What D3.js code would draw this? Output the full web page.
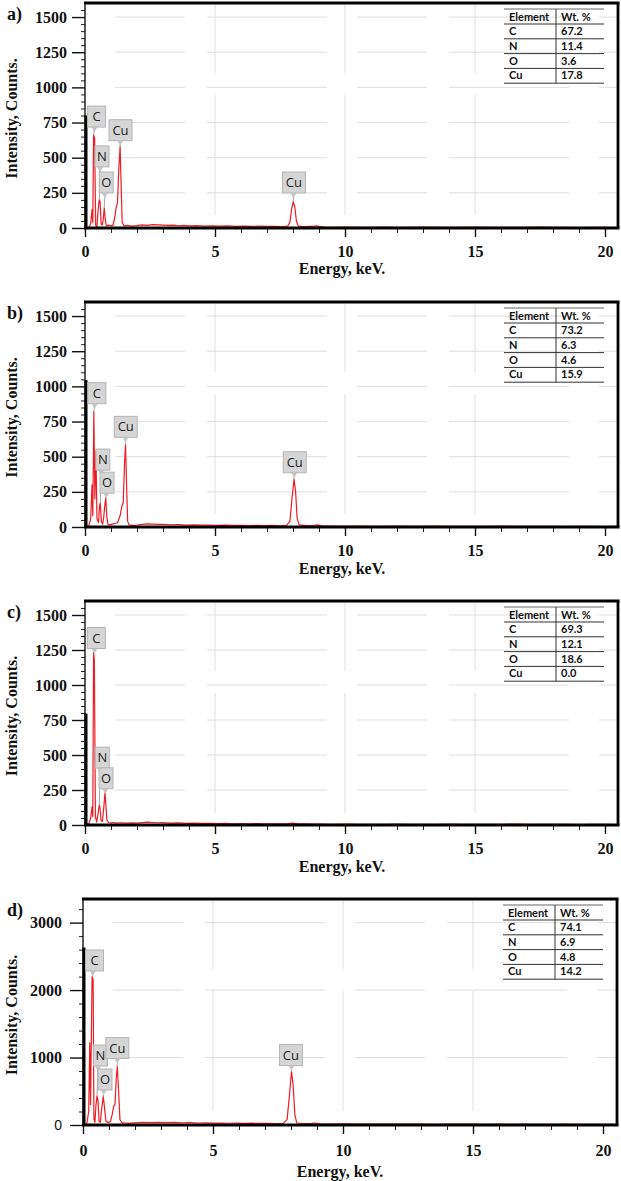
<!DOCTYPE html>
<html>
<head>
<meta charset="utf-8">
<script src="https://cdn.jsdelivr.net/npm/d3@7"></script>
<style>
  body { margin: 0; background: #fff; }
  svg { display: block; }
</style>
</head>
<body>
<div id="chart"></div>
<script>
// ---- data ----
const elements = ["C", "N", "O", "Cu"];
const wtA = [67.2, 11.4, 3.6, 17.8];
const wtB = [73.2, 6.3, 4.6, 15.9];
const wtC = [69.3, 12.1, 18.6, 0.0];
const wtD = [74.1, 6.9, 4.8, 14.2];

const xTicks = [0, 5, 10, 15, 20];
const yTicksLow = [0, 250, 500, 750, 1000, 1250, 1500];
const yTicksHigh = [0, 1000, 2000, 3000];

// detector zero peak (black line at 0 keV)
const zeroPeaks = [800, 1045, 796, 2630];

// [keV, counts]
const spectrumA = [[0.05,0],[0.15,5],[0.22,30],[0.27,130],[0.3,40],[0.33,661],[0.37,640],[0.41,20],[0.46,10],
  [0.5,120],[0.55,200],[0.58,190],[0.62,30],[0.66,20],[0.7,60],[0.74,142],[0.78,60],[0.82,15],[0.9,20],[1.0,15],
  [1.08,20],[1.15,80],[1.2,150],[1.25,178],[1.3,420],[1.35,578],[1.39,300],[1.43,40],[1.5,15],[1.6,18],[1.8,14],
  [2.0,17],[2.2,22],[2.4,19],[2.6,24],[2.8,22],[3.0,20],[3.2,18],[3.4,21],[3.6,16],[3.8,18],[4.0,15],[4.3,17],
  [4.6,14],[4.9,15],[5.2,13],[5.5,15],[5.8,12],[6.1,14],[6.4,12],[6.7,13],[7.0,11],[7.3,12],[7.6,10],[7.8,14],
  [7.88,40],[7.95,140],[8.01,187],[8.07,150],[8.13,50],[8.2,14],[8.4,10],[8.6,11],[8.8,12],[8.9,16],[9.0,11],
  [9.2,6],[9.6,5],[10,6],[10.5,4],[11,5],[11.5,6],[12,5],[12.5,4],[13,6],[13.5,5],[14,5],[14.5,4],[15,6],[15.5,5],
  [16,4],[16.5,5],[17,4],[17.5,6],[18,4],[18.5,5],[19,3],[19.5,5],[20,4],[20.45,3]];

const spectrumB = [[0.05,0],[0.15,10],[0.22,60],[0.27,300],[0.3,80],[0.34,820],[0.38,200],[0.42,540],[0.46,60],
  [0.52,30],[0.56,150],[0.59,170],[0.63,40],[0.68,20],[0.72,70],[0.77,170],[0.8,205],[0.84,70],[0.88,20],[0.95,15],
  [1.05,20],[1.15,25],[1.25,30],[1.35,80],[1.42,150],[1.47,172],[1.52,450],[1.56,585],[1.6,300],[1.64,40],[1.7,15],
  [1.8,12],[2.0,14],[2.2,18],[2.4,22],[2.6,20],[2.8,18],[3.0,19],[3.3,16],[3.6,17],[3.9,14],[4.2,15],[4.5,13],
  [4.8,14],[5.1,12],[5.4,13],[5.7,11],[6.0,12],[6.3,10],[6.6,11],[6.9,10],[7.2,11],[7.5,9],[7.75,12],[7.88,40],
  [7.96,200],[8.04,341],[8.1,250],[8.16,60],[8.24,15],[8.5,10],[8.8,12],[8.95,15],[9.1,8],[9.5,6],[10,5],[10.5,6],
  [11,4],[11.5,5],[12,6],[12.5,4],[13,5],[13.5,6],[14,4],[14.5,5],[15,5],[15.5,4],[16,6],[16.5,4],[17,5],[17.5,4],
  [18,5],[18.5,3],[19,4],[19.5,5],[20,3],[20.45,4]];

const spectrumC = [[0.05,0],[0.15,10],[0.22,50],[0.27,130],[0.3,60],[0.33,1232],[0.36,1180],[0.4,60],[0.45,20],
  [0.5,80],[0.55,142],[0.58,120],[0.62,30],[0.67,25],[0.72,120],[0.77,230],[0.8,150],[0.84,40],[0.9,18],[1.0,15],
  [1.1,18],[1.2,14],[1.4,16],[1.6,13],[1.8,15],[2.0,14],[2.2,17],[2.4,20],[2.6,18],[2.8,16],[3.0,17],[3.3,14],
  [3.6,15],[3.9,12],[4.2,13],[4.5,11],[4.8,12],[5.1,10],[5.4,11],[5.7,9],[6.0,10],[6.3,8],[6.6,10],[6.9,8],[7.2,9],
  [7.5,8],[7.8,10],[8.0,14],[8.2,9],[8.5,8],[8.8,7],[9.1,6],[9.5,5],[10,6],[10.5,4],[11,5],[11.5,4],[12,6],[12.5,5],
  [13,4],[13.5,5],[14,6],[14.5,4],[15,5],[15.5,4],[16,5],[16.5,6],[17,4],[17.5,5],[18,4],[18.5,5],[19,3],[19.5,4],
  [20,5],[20.45,3]];

const spectrumD = [[0.05,0],[0.15,30],[0.22,200],[0.26,1220],[0.29,300],[0.35,2200],[0.39,2150],[0.42,80],[0.46,40],
  [0.5,300],[0.54,430],[0.58,350],[0.62,50],[0.67,40],[0.72,250],[0.78,420],[0.83,250],[0.88,60],[0.95,40],[1.05,45],
  [1.12,150],[1.18,280],[1.23,300],[1.28,700],[1.32,867],[1.37,500],[1.42,80],[1.5,35],[1.6,30],[1.8,28],[2.0,32],
  [2.3,38],[2.6,35],[2.9,40],[3.2,36],[3.5,38],[3.8,33],[4.1,35],[4.4,30],[4.7,32],[5.0,28],[5.3,30],[5.6,26],
  [5.9,28],[6.2,25],[6.5,27],[6.8,23],[7.1,25],[7.4,22],[7.7,24],[7.85,80],[7.93,400],[8.02,792],[8.08,600],
  [8.15,150],[8.22,30],[8.5,22],[8.8,24],[8.95,30],[9.1,18],[9.5,15],[10,16],[10.5,13],[11,15],[11.5,14],[12,12],
  [12.5,14],[13,13],[13.5,11],[14,13],[14.5,12],[15,14],[15.5,11],[16,12],[16.5,10],[17,12],[17.5,11],[18,10],
  [18.5,12],[19,9],[19.5,11],[20,10],[20.45,9]];

// peak labels: [element, keV, counts]
const peaksA = [["C",0.33,661],["N",0.55,200],["O",0.74,142],["Cu",1.35,578],["Cu",8.01,187]];
const peaksB = [["C",0.34,820],["N",0.59,170],["O",0.8,205],["Cu",1.56,585],["Cu",8.04,341]];
const peaksC = [["C",0.33,1232],["N",0.55,142],["O",0.77,230]];
const peaksD = [["C",0.35,2200],["N",0.54,430],["O",0.78,420],["Cu",1.32,867],["Cu",8.02,792]];

// ---- layout ----
const W = 621, H = 1181;
const serif = "'Liberation Serif','Times New Roman',serif";
const sans = "'Open Sans','DejaVu Sans',sans-serif";

const panels = [
  { tag: "a)", left: 85, top: 3, right: 618, bottom: 228, yMax: 1600, yTicks: yTicksLow, yMinor: 50,
    data: spectrumA, peaks: peaksA, wt: wtA, zero: zeroPeaks[0], tickGap: 9, titleGap: 46,
    boxes: [[3,8],[2.7,33],[2,15],[0.4,6],[0.7,8.7]] },
  { tag: "b)", left: 85, top: 302, right: 618, bottom: 527, yMax: 1600, yTicks: yTicksLow, yMinor: 50,
    data: spectrumB, peaks: peaksB, wt: wtB, zero: zeroPeaks[1], tickGap: 9, titleGap: 47,
    boxes: [[3,8],[2.5,33],[1.2,5],[0.2,7.4],[0.7,6.3]] },
  { tag: "c)", left: 85, top: 601, right: 618, bottom: 825, yMax: 1600, yTicks: yTicksLow, yMinor: 50,
    data: spectrumC, peaks: peaksC, wt: wtC, zero: zeroPeaks[2], tickGap: 9, titleGap: 47,
    boxes: [[2.7,4],[3,37],[1,4]] },
  { tag: "d)", left: 83, top: 899, right: 617, bottom: 1125, yMax: 3350, yTicks: yTicksHigh, yMinor: 200,
    data: spectrumD, peaks: peaksD, wt: wtD, zero: zeroPeaks[3], tickGap: 11, titleGap: 52,
    boxes: [[2.4,5.6],[3.4,30],[1.7,6.7],[0,8],[-0.6,6]] }
];

const svg = d3.select("#chart").append("svg")
  .attr("width", W).attr("height", H)
  .attr("viewBox", [0, 0, W, H])
  .style("background", "#fff");

panels.forEach((p, i) => drawPanel(p, i));

function drawPanel(p, idx) {
  const g = svg.append("g");
  const x = d3.scaleLinear().domain([0, 20.5]).range([p.left, p.left + 20.5 * 26]);
  const y = d3.scaleLinear().domain([0, p.yMax]).range([p.bottom, p.top]);

  // faint broken grid
  const grid = g.append("g").attr("stroke", "#dedede").attr("stroke-width", 1)
    .attr("stroke-dasharray", "70,22,120,30");
  grid.selectAll("line.h").data(p.yTicks.filter(d => d > 0)).join("line")
    .attr("x1", p.left + 30).attr("x2", p.right).attr("y1", d => y(d)).attr("y2", d => y(d));
  grid.selectAll("line.v").data(xTicks.filter(d => d > 0 && d < 20)).join("line")
    .attr("x1", d => x(d)).attr("x2", d => x(d)).attr("y1", p.top).attr("y2", p.bottom);

  // y axis ticks
  const minorY = d3.range(0, p.yMax, p.yMinor).filter(d => !p.yTicks.includes(d));
  g.append("g").attr("transform", `translate(${p.left},0)`)
    .call(d3.axisLeft(y).tickValues(minorY).tickSize(4).tickFormat(""))
    .call(a => a.select(".domain").remove())
    .call(a => a.selectAll("line").attr("stroke", "#222").attr("stroke-width", 1));
  const yAx = g.append("g").attr("transform", `translate(${p.left},0)`)
    .call(d3.axisLeft(y).tickValues(p.yTicks).tickFormat(d3.format("d"))
      .tickSize(13).tickPadding(idx === 3 ? 8 : 5))
    .call(a => a.select(".domain").remove())
    .call(a => a.selectAll("line").attr("stroke", "#111").attr("stroke-width", 1.4));
  yAx.attr("font-family", serif);
  yAx.selectAll("text")
    .attr("font-family", serif).attr("font-weight", "bold").attr("font-size", 16).attr("fill", "#111");
  if (idx === 3) {
    yAx.selectAll("text").filter(d => d === 0)
      .attr("font-family", "'Liberation Sans',Arial,sans-serif").attr("font-weight", "normal")
      .attr("font-size", 14);
  }

  // x axis ticks
  const minorX = d3.range(1, 21, 1).filter(d => !xTicks.includes(d));
  g.append("g").attr("transform", `translate(0,${p.bottom})`)
    .call(d3.axisBottom(x).tickValues(minorX).tickSize(5).tickFormat(""))
    .call(a => a.select(".domain").remove())
    .call(a => a.selectAll("line").attr("stroke", "#222").attr("stroke-width", 1));
  const xAx = g.append("g").attr("transform", `translate(0,${p.bottom})`)
    .call(d3.axisBottom(x).tickValues(xTicks).tickFormat(d3.format("d"))
      .tickSize(9).tickPadding(p.tickGap))
    .call(a => a.select(".domain").remove())
    .call(a => a.selectAll("line").attr("stroke", "#111").attr("stroke-width", 1.4));
  xAx.attr("font-family", serif);
  xAx.selectAll("text")
    .attr("font-family", serif).attr("font-weight", "bold").attr("font-size", 16).attr("fill", "#111");

  // spectrum
  const clipId = "clip" + idx;
  g.append("clipPath").attr("id", clipId).append("rect")
    .attr("x", p.left).attr("y", p.top).attr("width", p.right - p.left).attr("height", p.bottom - p.top);
  const line = d3.line().x(d => x(d[0])).y(d => y(d[1]));
  g.append("path").datum(p.data)
    .attr("clip-path", `url(#${clipId})`)
    .attr("fill", "none").attr("stroke", "#ee1c24").attr("stroke-width", 1.2)
    .attr("stroke-linejoin", "round")
    .attr("d", line);

  // frame
  const frame = g.append("g").attr("stroke", "#000").attr("fill", "none");
  frame.append("line").attr("x1", p.left).attr("x2", p.left).attr("y1", p.top).attr("y2", p.bottom)
    .attr("stroke-width", 1.3);
  frame.append("line").attr("x1", p.left - 1).attr("x2", p.right + 1.5).attr("y1", p.top).attr("y2", p.top)
    .attr("stroke-width", 2.8);
  frame.append("line").attr("x1", p.right).attr("x2", p.right).attr("y1", p.top).attr("y2", p.bottom)
    .attr("stroke-width", 2.8);
  frame.append("line").attr("x1", p.left - 1).attr("x2", p.right + 1.5).attr("y1", p.bottom).attr("y2", p.bottom)
    .attr("stroke-width", 2.8);
  // zero peak
  g.append("line").attr("x1", x(0) + 1).attr("x2", x(0) + 1)
    .attr("y1", y(0)).attr("y2", y(p.zero))
    .attr("stroke", "#000").attr("stroke-width", 3);

  // peak labels
  const lab = g.append("g");
  p.peaks.forEach((pk, j) => {
    const [name, kev, cnt] = pk;
    const [dx, lift] = p.boxes[j];
    const px = x(kev), py = y(cnt);
    const bw = name.length > 1 ? 23 : (name === "C" ? 18 : 14);
    const bh = 21;
    const bx = px + dx - bw / 2;
    const by = py - lift - bh;
    const lg = lab.append("g");
    lg.append("line").attr("x1", px + dx * 0.3).attr("x2", px).attr("y1", by + bh).attr("y2", py)
      .attr("stroke", "#9a9a9a").attr("stroke-width", 0.9);
    lg.append("rect").attr("x", bx).attr("y", by).attr("width", bw).attr("height", bh)
      .attr("fill", "#d5d5d5").attr("stroke", "#b4b4b4").attr("stroke-width", 1);
    lg.append("path")
      .attr("d", `M${px + dx * 0.3 - 3},${by + bh} L${px + dx * 0.3 + 3},${by + bh} L${px + dx * 0.3},${by + bh + 5}Z`)
      .attr("fill", "#c4c4c4");
    lg.append("text").attr("x", bx + bw / 2).attr("y", by + bh / 2 + 4.5)
      .attr("text-anchor", "middle").attr("font-family", sans).attr("font-size", 13)
      .attr("fill", "#222").text(name);
  });

  // axis titles and tag
  g.append("text")
    .attr("transform", `translate(17,${(p.top + p.bottom) / 2 + 3}) rotate(-90)`)
    .attr("text-anchor", "middle").attr("font-family", serif).attr("font-weight", "bold")
    .attr("font-size", 16).attr("fill", "#111").text("Intensity, Counts.");
  g.append("text").attr("x", x(10) - 3).attr("y", p.bottom + p.titleGap)
    .attr("text-anchor", "middle").attr("font-family", serif).attr("font-weight", "bold")
    .attr("font-size", 16).attr("fill", "#111").text("Energy, keV.");
  g.append("text").attr("x", 7).attr("y", p.top + 17)
    .attr("font-family", serif).attr("font-weight", "bold").attr("font-size", 18)
    .attr("fill", "#111").text(p.tag);

  // composition table
  const tw = 100, col = 52, hh = 15, rh = 14.8;
  const tx = p.right - 14 - tw, ty = p.top + 6;
  const tg = g.append("g").attr("transform", `translate(${tx},${ty})`)
    .attr("font-family", "Lato,'Open Sans',sans-serif").attr("font-size", 11).attr("fill", "#111");
  tg.append("line").attr("x1", 0).attr("x2", tw).attr("y1", 0).attr("y2", 0)
    .attr("stroke", "#666").attr("stroke-width", 1);
  const rows = elements.map((e, k) => ({ e, v: p.wt[k] }));
  tg.selectAll("line.r").data(d3.range(rows.length + 1)).join("line")
    .attr("x1", 0).attr("x2", tw)
    .attr("y1", k => hh + k * rh).attr("y2", k => hh + k * rh)
    .attr("stroke", "#333").attr("stroke-width", 1);
  tg.append("line").attr("x1", col).attr("x2", col).attr("y1", 0).attr("y2", hh + rows.length * rh)
    .attr("stroke", "#333").attr("stroke-width", 1);
  tg.append("text").attr("x", 5).attr("y", 11.5).attr("font-weight", "bold").text("Element");
  tg.append("text").attr("x", col + 5).attr("y", 11.5).attr("font-weight", "bold").text("Wt. %");
  tg.selectAll("text.e").data(rows).join("text")
    .attr("x", 5).attr("y", (d, k) => hh + k * rh + 11)
    .attr("font-weight", "bold").text(d => d.e);
  tg.selectAll("text.v").data(rows).join("text")
    .attr("x", col + 5).attr("y", (d, k) => hh + k * rh + 11)
    .attr("font-weight", "bold").text(d => d.v.toFixed(1));
}
</script>
</body>
</html>
